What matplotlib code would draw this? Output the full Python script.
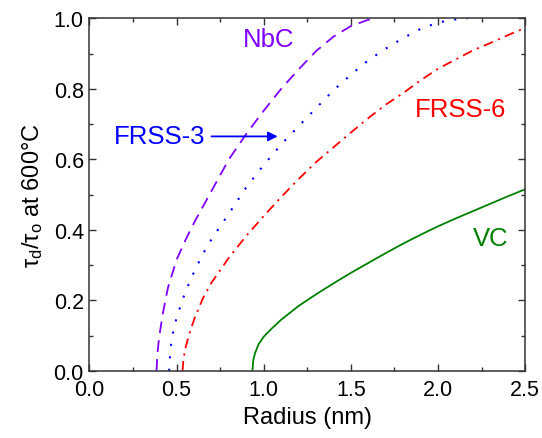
import numpy as np
import matplotlib
matplotlib.use("Agg")
import matplotlib.pyplot as plt

plt.rcParams['font.family'] = ['Liberation Sans', 'DejaVu Sans']
plt.rcParams['mathtext.fontset'] = 'custom'
plt.rcParams['mathtext.rm'] = 'Liberation Sans'
plt.rcParams['mathtext.it'] = 'Liberation Sans'

# curves (radius in nm, tau_d/tau_o)
nbc_r = [0.385, 0.39, 0.40, 0.42, 0.45, 0.50, 0.55, 0.60, 0.65, 0.70, 0.80, 0.90, 1.00,
         1.10, 1.20, 1.30, 1.40, 1.50, 1.60, 1.65]
nbc_y = [0.0, 0.05, 0.095, 0.16, 0.235, 0.315, 0.37, 0.42, 0.465, 0.51, 0.60, 0.672, 0.738,
         0.80, 0.855, 0.907, 0.948, 0.978, 0.996, 1.0]

frss3_r = [0.457, 0.465, 0.48, 0.50, 0.55, 0.60, 0.65, 0.70, 0.80, 0.90, 1.00, 1.10, 1.20,
           1.30, 1.40, 1.50, 1.60, 1.70, 1.80, 1.90, 2.00, 2.10, 2.17]
frss3_y = [0.0, 0.064, 0.109, 0.151, 0.224, 0.280, 0.331, 0.373, 0.446, 0.521, 0.584, 0.642, 0.694,
           0.745, 0.796, 0.840, 0.881, 0.914, 0.944, 0.970, 0.988, 0.997, 1.0]

frss6_r = [0.534, 0.54, 0.55, 0.57, 0.60, 0.65, 0.70, 0.80, 0.90, 1.00, 1.10, 1.20, 1.30,
           1.40, 1.50, 1.60, 1.70, 1.80, 1.90, 2.00, 2.10, 2.20, 2.30, 2.40, 2.50]
frss6_y = [0.0, 0.035, 0.063, 0.10, 0.145, 0.205, 0.250, 0.321, 0.383, 0.439, 0.493, 0.544, 0.592,
           0.634, 0.676, 0.717, 0.755, 0.788, 0.824, 0.857, 0.883, 0.909, 0.930, 0.952, 0.973]

vc_r = [0.935, 0.94, 0.95, 0.97, 1.00, 1.05, 1.10, 1.20, 1.30, 1.40, 1.50, 1.60, 1.70,
        1.80, 1.90, 2.00, 2.10, 2.20, 2.30, 2.40, 2.50]
vc_y = [0.0, 0.03, 0.05, 0.075, 0.097, 0.122, 0.145, 0.184, 0.217, 0.248, 0.278, 0.306, 0.334,
        0.361, 0.386, 0.410, 0.432, 0.453, 0.474, 0.495, 0.515]

fig = plt.figure(figsize=(5.42, 4.39), dpi=100)
ax = fig.add_axes([0.165, 0.153, 0.804, 0.803])

ax.plot(nbc_r, nbc_y, color='#8000ff', lw=1.3, dashes=(6.5, 4))
ax.plot(frss3_r, frss3_y, color='#0000ff', lw=1.5, dashes=(1.0, 5.0))
ax.plot(frss6_r, frss6_y, color='#ff0000', lw=1.3, dashes=(5.5, 3, 1.2, 3))
ax.plot(vc_r, vc_y, color='#008000', lw=1.3)

ax.text(1.03, 0.94, 'NbC', color='#8000ff', fontsize=18.5, ha='center', va='center')
ax.text(0.40, 0.666, 'FRSS-3', color='#0000ff', fontsize=18.5, ha='center', va='center')
ax.annotate('', xy=(1.08, 0.665), xytext=(0.70, 0.665),
            arrowprops=dict(arrowstyle='-|>', color='#0000ff', lw=1.3,
                            mutation_scale=14, shrinkA=0, shrinkB=0))
ax.text(2.13, 0.742, 'FRSS-6', color='#ff0000', fontsize=18.5, ha='center', va='center')
ax.text(2.30, 0.378, 'VC', color='#008000', fontsize=18.5, ha='center', va='center')

ax.set_xlim(0, 2.5)
ax.set_ylim(0, 1.0)
ax.set_xticks(np.arange(0, 2.51, 0.5))
ax.set_yticks(np.arange(0, 1.01, 0.2))
ax.set_xticks(np.arange(0, 2.51, 0.25), minor=True)
ax.set_yticks(np.arange(0, 1.01, 0.1), minor=True)
ax.xaxis.set_major_formatter(matplotlib.ticker.FormatStrFormatter('%.1f'))
ax.yaxis.set_major_formatter(matplotlib.ticker.FormatStrFormatter('%.1f'))
ax.tick_params(which='both', direction='in', top=True, right=True, labelsize=15.5, color='#333333')
ax.tick_params(which='major', length=5, width=1)
ax.tick_params(which='minor', length=3, width=1)
ax.tick_params(axis='x', pad=6)
ax.tick_params(axis='y', pad=4)
for s in ax.spines.values():
    s.set_linewidth(1.1)
    s.set_color('#333333')

ax.set_xlabel('Radius (nm)', fontsize=17, labelpad=4)
ax.set_ylabel(r'$\tau_d/\tau_o$ at 600°C', fontsize=17, labelpad=6)

fig.savefig('out.png', dpi=100)
